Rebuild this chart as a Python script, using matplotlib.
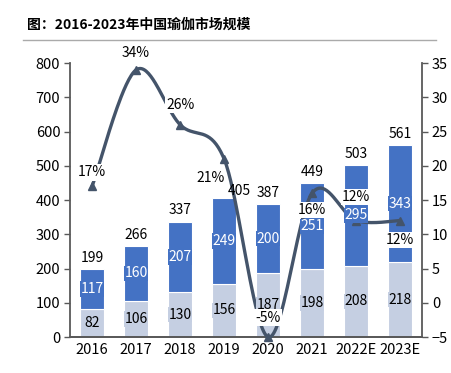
import numpy as np
import matplotlib
matplotlib.use("Agg")
import matplotlib.pyplot as plt
from matplotlib.lines import Line2D

plt.rcParams['font.family'] = ['Noto Sans CJK SC', 'DejaVu Sans']

years = ["2016", "2017", "2018", "2019", "2020", "2021", "2022E", "2023E"]
base_vals = [82, 106, 130, 156, 187, 198, 208, 218]
top_vals = [117, 160, 207, 249, 200, 251, 295, 343]
totals = [199, 266, 337, 405, 387, 449, 503, 561]
growth = [17, 34, 26, 21, -5, 16, 12, 12]

# label offsets (points): dx, dy
growth_offsets = [(0, 10), (0, 12), (0, 14), (-10, -14), (0, 14), (0, -12), (0, 17), (0, -14)]
total_offsets = [(0, 0), (0, 0), (0, 0), (11, -3), (0, 0), (0, 0), (0, 0), (0, 0)]

LIGHT = "#C5CFE2"
BLUE = "#4472C4"
LINE = "#44546A"
AXIS = "#595959"


def smooth_curve(xs, ys, sx, sy, n=40):
    """Excel style smoothed line (Catmull-Rom bezier) computed in pixel space."""
    px = np.asarray(xs, float) * sx
    py = np.asarray(ys, float) * sy
    P = np.column_stack([px, py])
    out = []
    for i in range(len(P) - 1):
        p0 = P[i - 1] if i > 0 else P[i]
        p1 = P[i]
        p2 = P[i + 1]
        p3 = P[i + 2] if i + 2 < len(P) else P[i + 1]
        c1 = p1 + (p2 - p0) / 6.0
        c2 = p2 - (p3 - p1) / 6.0
        t = np.linspace(0, 1, n)[:, None]
        seg = ((1 - t) ** 3) * p1 + 3 * ((1 - t) ** 2) * t * c1 + 3 * (1 - t) * t ** 2 * c2 + t ** 3 * p2
        out.append(seg if i == 0 else seg[1:])
    curve = np.vstack(out)
    return curve[:, 0] / sx, curve[:, 1] / sy


def main():
    fig = plt.figure(figsize=(4.52, 3.73), dpi=100)
    ax = fig.add_axes([0.155, 0.0965, 0.779, 0.7345])
    ax2 = ax.twinx()

    x = np.arange(len(years))
    w = 0.55
    ax.bar(x, base_vals, w, color=LIGHT, edgecolor="white", linewidth=0.8, zorder=2)
    ax.bar(x, top_vals, w, bottom=base_vals, color=BLUE, edgecolor="white", linewidth=0.8, zorder=2)

    ax.set_xlim(-0.5, len(years) - 0.5)
    ax.set_ylim(0, 800)
    ax.set_yticks(range(0, 801, 100))
    ax2.set_ylim(-5, 35)
    ax2.set_yticks(range(-5, 36, 5))
    ax.set_xticks(x)
    ax.set_xticklabels(years)

    # smoothed growth line
    sx = 44.0
    sy = 274.0 / 40.0
    cx, cy = smooth_curve(x, growth, sx, sy)
    ax2.plot(cx, cy, color=LINE, lw=2.4, zorder=3, clip_on=False, solid_capstyle="round")
    ax2.plot(x, growth, linestyle="none", marker="^", ms=6, color=LINE, zorder=4, clip_on=False)

    # bar labels drawn on ax2 (above the line), using the bar axis coordinates
    for i in range(len(years)):
        ax2.text(x[i], base_vals[i] / 2, str(base_vals[i]), ha="center", va="center",
                 fontsize=10, color="black", zorder=6, transform=ax.transData,
                 bbox=dict(boxstyle="square,pad=0.05", fc=LIGHT, ec="none"))
        ax2.text(x[i], base_vals[i] + top_vals[i] / 2, str(top_vals[i]), ha="center", va="center",
                 fontsize=10, color="white", zorder=6, transform=ax.transData,
                 bbox=dict(boxstyle="square,pad=0.05", fc=BLUE, ec="none"))
        dx, dy = total_offsets[i]
        ax2.annotate(str(totals[i]), (x[i], totals[i]), xycoords=ax.transData,
                     xytext=(dx, 8 + dy), textcoords="offset points",
                     ha="center", va="center", fontsize=10, color="black", zorder=6)

    for i, g in enumerate(growth):
        dx, dy = growth_offsets[i]
        ax2.annotate(f"{g}%", (x[i], g), xytext=(dx, dy), textcoords="offset points",
                     ha="center", va="center", fontsize=10, color="black", zorder=7,
                     bbox=dict(boxstyle="square,pad=0.08", fc="white", ec="none"))

    ax.set_zorder(1)
    ax2.set_zorder(2)
    ax.patch.set_visible(False)

    for a in (ax, ax2):
        a.spines["top"].set_visible(False)
        for s in ("left", "right", "bottom"):
            a.spines[s].set_color(AXIS)
            a.spines[s].set_linewidth(1.3)
        a.tick_params(axis="y", length=4, width=1, color=AXIS, labelsize=10.5, pad=3)
    ax.spines["right"].set_visible(False)
    ax2.spines["left"].set_visible(False)
    ax.tick_params(axis="x", length=0, labelsize=10.5, pad=4)

    fig.text(0.06, 0.933, "图：2016-2023年中国瑜伽市场规模", fontsize=10, fontweight="bold",
             ha="left", va="center")
    fig.add_artist(Line2D([0.051, 0.965], [0.893, 0.893], color="#AAAAAA", lw=1.0))

    fig.savefig("out.png", dpi=100)


if __name__ == '__main__':
    main()
